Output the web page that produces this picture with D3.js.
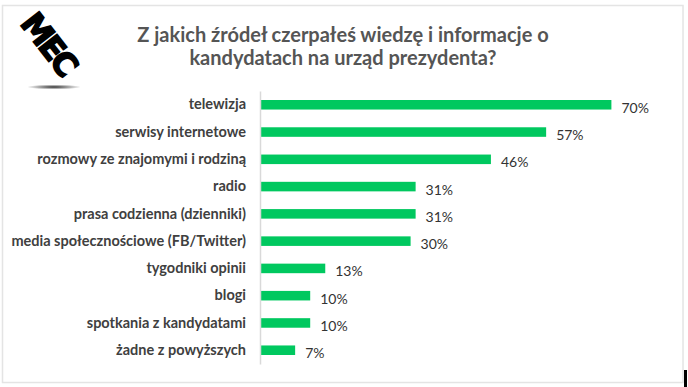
<!DOCTYPE html>
<html>
<head>
<meta charset="utf-8">
<script src="https://cdn.jsdelivr.net/npm/d3@7"></script>
<style>
    body { margin: 0; background: #fff; }
    svg { display: block; }
</style>
</head>
<body>
<script>
'use strict';

// chart data
const categories = [
    "telewizja",
    "serwisy internetowe",
    "rozmowy ze znajomymi i rodziną",
    "radio",
    "prasa codzienna (dzienniki)",
    "media społecznościowe (FB/Twitter)",
    "tygodniki opinii",
    "blogi",
    "spotkania z kandydatami",
    "żadne z powyższych"
];
const values = [70, 57, 46, 31, 31, 30, 13, 10, 10, 7];
const titleLines = [
    "Z jakich źródeł czerpałeś wiedzę i informacje o",
    "kandydatach na urząd prezydenta?"
];

(function() {
    const measurements = {
        width: 688,
        height: 387,
        left: 260,
        top: 91,
        bottom: 364
    };

    const svg = d3.select('body')
        .append('svg')
        .attr('width', measurements.width)
        .attr('height', measurements.height);

    // light frame around the slide
    svg.append('rect')
        .attr('x', 2.5)
        .attr('y', 5.5)
        .attr('width', 680.5)
        .attr('height', 377)
        .attr('fill', 'none')
        .attr('stroke', '#e4e4e4')
        .attr('stroke-width', 1.5);

    svg.append('rect')
        .attr('x', 684)
        .attr('y', 370)
        .attr('width', 3)
        .attr('height', 17)
        .attr('fill', '#000');

    // logo
    const logo = svg.append('g');
    const shadow = svg.append('defs').append('radialGradient').attr('id', 'shadow');
    shadow.append('stop').attr('offset', '0%').attr('stop-color', '#333');
    shadow.append('stop').attr('offset', '100%').attr('stop-color', '#fff');
    logo.append('ellipse')
        .attr('cx', 54).attr('cy', 87)
        .attr('rx', 27).attr('ry', 2.5)
        .attr('fill', 'url(#shadow)');
    logo.append('text')
        .attr('transform', 'translate(26, 18) rotate(52)')
        .attr('font-family', 'DejaVu Sans')
        .attr('font-weight', 'bold')
        .attr('font-size', 32)
        .attr('letter-spacing', -3)
        .attr('stroke', '#000')
        .attr('stroke-width', 1.5)
        .attr('dominant-baseline', 'middle')
        .attr('fill', '#000')
        .text('MEC');

    // title
    svg.append('text')
        .attr('font-family', 'Lato')
        .attr('font-weight', 'bold')
        .attr('font-size', 20)
        .attr('fill', '#555')
        .attr('text-anchor', 'middle')
        .selectAll('tspan')
        .data(titleLines)
        .enter()
        .append('tspan')
        .attr('x', 343)
        .attr('y', (d, i) => 42 + i * 23)
        .text((d) => d);

    // scales
    const xScale = d3.scaleLinear()
        .domain([0, 100])
        .range([measurements.left, measurements.left + 502]);

    const yScale = d3.scaleBand()
        .domain(categories)
        .range([measurements.top, measurements.bottom])
        .paddingInner(0.65)
        .paddingOuter(0.33);

    const rows = categories.map((c, i) => ({ label: c, value: values[i] }));

    // bars
    svg.selectAll('.bar')
        .data(rows)
        .enter()
        .append('rect')
        .attr('class', 'bar')
        .attr('x', xScale(0))
        .attr('y', (d) => yScale(d.label))
        .attr('width', (d) => xScale(d.value) - xScale(0))
        .attr('height', yScale.bandwidth())
        .attr('fill', '#00c85f');

    // category axis
    const yAxis = d3.axisLeft(yScale).tickSize(0).tickPadding(14);
    const axisG = svg.append('g')
        .attr('transform', 'translate(' + measurements.left + ', 0)')
        .call(yAxis);
    axisG.select('.domain')
        .attr('stroke', '#d9d9d9')
        .attr('stroke-width', 1.5);
    axisG.selectAll('text')
        .attr('font-family', 'Lato')
        .attr('font-weight', 'bold')
        .attr('font-size', 14.5)
        .attr('fill', '#404040');

    // value labels
    svg.selectAll('.value')
        .data(rows)
        .enter()
        .append('text')
        .attr('class', 'value')
        .attr('x', (d) => xScale(d.value) + 10)
        .attr('y', (d) => yScale(d.label) + yScale.bandwidth() / 2 + 8)
        .attr('font-family', 'Lato')
        .attr('font-size', 14)
        .attr('fill', '#333')
        .text((d) => d.value + '%');
})();
</script>
</body>
</html>
